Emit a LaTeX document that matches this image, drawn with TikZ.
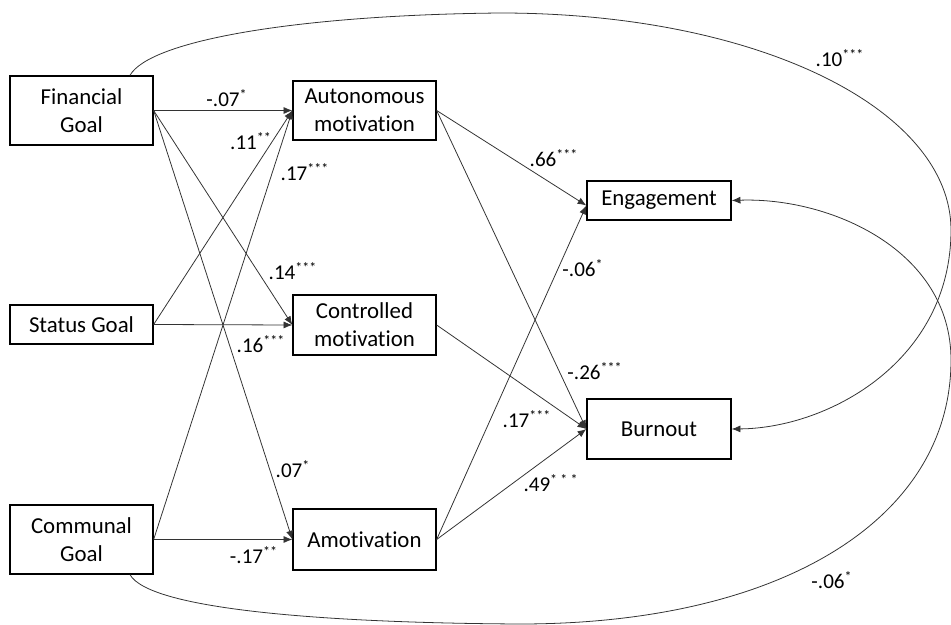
\documentclass[tikz,border=0pt]{standalone}
\usepackage{fontspec}
\setmainfont{Carlito}[Ligatures=NoCommon]
\usepackage{tikz}
\usetikzlibrary{arrows.meta}
\tikzstyle{bx}=[rectangle,draw=black,line width=0.75pt,inner sep=0pt,
  minimum width=2.86cm,align=center,font=\fontsize{13}{16}\selectfont]
\tikzstyle{lbl}=[inner sep=0pt,font=\fontsize{12}{14}\selectfont]
\tikzstyle{arr}=[draw=black!80,line width=0.45pt,-{Latex[length=5pt,width=4pt]}]

\begin{document}
\begin{tikzpicture}[x=0.02cm,y=-0.02cm]
        \useasboundingbox (0,0) rectangle (951,625);
        \node[style=bx,minimum height=1.38cm] (1) at (81.5,110.5) {Financial\\Goal};
        \node[style=bx,minimum height=0.78cm] (2) at (81.5,324.5) {Status Goal};
        \node[style=bx,minimum height=1.38cm] (3) at (81.5,539.5) {Communal\\Goal};
        \node[style=bx,minimum height=1.18cm] (4) at (364.5,110.5) {Autonomous\\motivation};
        \node[style=bx,minimum height=1.2cm] (5) at (364.5,325) {Controlled\\motivation};
        \node[style=bx,minimum height=1.22cm] (6) at (364.5,539.5) {Amotivation};
        \node[style=bx,minimum height=0.78cm,minimum width=2.88cm] (7) at (659,200.5) {Engagement};
        \node[style=bx,minimum height=1.2cm,minimum width=2.88cm] (8) at (659,429) {Burnout};
        \node[style=lbl] (9) at (227,98) {-.07\textsuperscript{*}};
        \node[style=lbl] (10) at (251,141) {.11\textsuperscript{**}};
        \node[style=lbl] (11) at (305,172) {.17\textsuperscript{***}};
        \node[style=lbl] (12) at (293,271) {.14\textsuperscript{***}};
        \node[style=lbl] (13) at (261,344) {.16\textsuperscript{***}};
        \node[style=lbl] (14) at (293,469) {.07\textsuperscript{*}};
        \node[style=lbl] (15) at (254,555) {-.17\textsuperscript{**}};
        \node[style=lbl] (16) at (554,158) {.66\textsuperscript{***}};
        \node[style=lbl] (17) at (583,268) {-.06\textsuperscript{*}};
        \node[style=lbl] (18) at (595,371) {-.26\textsuperscript{***}};
        \node[style=lbl] (19) at (527,419) {.17\textsuperscript{***}};
        \node[style=lbl] (20) at (551,483) {.49\textsuperscript{* * *}};
        \node[style=lbl] (21) at (840,58) {.10\textsuperscript{***}};
        \node[style=lbl] (22) at (832,580) {-.06\textsuperscript{*}};
        \draw[style=arr] (1.east) to (4.west);
        \draw[style=arr] (1.east) to (5.west);
        \draw[style=arr] (1.east) to (6.west);
        \draw[style=arr] (2.east) to (4.west);
        \draw[style=arr] (2.east) to (5.west);
        \draw[style=arr] (3.east) to (4.west);
        \draw[style=arr] (3.east) to (6.west);
        \draw[style=arr] (4.east) to ([yshift=-0.1cm]7.west);
        \draw[style=arr] (4.east) to (8.west);
        \draw[style=arr] (5.east) to (8.west);
        \draw[style=arr] (6.east) to ([yshift=-0.1cm]7.west);
        \draw[style=arr] (6.east) to (8.west);
        \draw[style=arr] ([xshift=0.97cm]1.north) .. controls (150,40) and (300,15) .. (500,13)
            .. controls (760,13) and (951,110) .. (951,230)
            .. controls (951,360) and (830,428) .. (8.east);
        \draw[style=arr] ([xshift=0.97cm]3.south) .. controls (150,610) and (330,623) .. (520,624)
            .. controls (780,624) and (951,520) .. (951,360)
            .. controls (951,250) and (830,197) .. (7.east);
    \end{tikzpicture}
\end{document}
